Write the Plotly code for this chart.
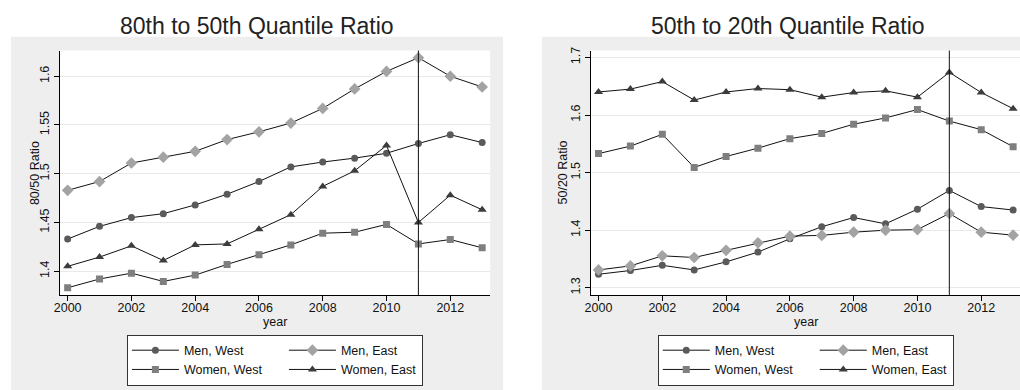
import plotly.graph_objects as go

W, H = 1020, 390
FONT = "Liberation Sans, Arial, Helvetica, sans-serif"

years = list(range(2000, 2014))
event_year = 2011

# 80th to 50th quantile ratio
r8050_men_west = [1.433, 1.446, 1.455, 1.459, 1.468, 1.479, 1.492, 1.507, 1.512, 1.516, 1.521, 1.531, 1.540, 1.532]
r8050_men_east = [1.483, 1.492, 1.511, 1.517, 1.523, 1.535, 1.543, 1.552, 1.567, 1.587, 1.605, 1.619, 1.600, 1.589]
r8050_women_west = [1.383, 1.392, 1.398, 1.3895, 1.396, 1.407, 1.417, 1.427, 1.439, 1.440, 1.448, 1.428, 1.4325, 1.424]
r8050_women_east = [1.405, 1.4145, 1.426, 1.411, 1.427, 1.428, 1.443, 1.458, 1.487, 1.503, 1.529, 1.450, 1.478, 1.463]

# 50th to 20th quantile ratio
r5020_men_west = [1.3235, 1.330, 1.339, 1.331, 1.345, 1.362, 1.385, 1.406, 1.422, 1.411, 1.4365, 1.469, 1.441, 1.435]
r5020_men_east = [1.331, 1.338, 1.3555, 1.3526, 1.365, 1.378, 1.3897, 1.391, 1.3966, 1.400, 1.401, 1.429, 1.3966, 1.3914]
r5020_women_west = [1.533, 1.546, 1.5665, 1.509, 1.528, 1.5425, 1.559, 1.568, 1.584, 1.595, 1.6095, 1.5895, 1.5746, 1.545]
r5020_women_east = [1.640, 1.645, 1.658, 1.626, 1.640, 1.646, 1.644, 1.631, 1.639, 1.642, 1.631, 1.674, 1.639, 1.611]

series_names = ["Men, West", "Men, East", "Women, West", "Women, East"]
series_symbols = ["circle", "diamond", "square", "triangle-up"]
series_sizes = [7, 9, 7, 8]
series_colors = ["#5a5a5a", "#a3a3a3", "#7f7f7f", "#3c3c3c"]
series_cols = ["c1", "c2", "c1", "c2"]

left_ticks = [1.4, 1.45, 1.5, 1.55, 1.6]
right_ticks = [1.3, 1.4, 1.5, 1.6, 1.7]
x_ticks = [2000, 2002, 2004, 2006, 2008, 2010, 2012]


def px(x):
    return x / W


def py(y):
    return 1 - y / H


fig = go.Figure()

panels = [
    ("x", "y", "legend", [r8050_men_west, r8050_men_east, r8050_women_west, r8050_women_east]),
    ("x2", "y2", "legend2", [r5020_men_west, r5020_men_east, r5020_women_west, r5020_women_east]),
]
for xa, ya, lg, data in panels:
    for name, sym, sz, col, grp, vals in zip(series_names, series_symbols, series_sizes,
                                             series_colors, series_cols, data):
        extra = dict(legendwidth=95) if grp == "c1" else {}
        fig.add_trace(go.Scatter(
            x=years, y=vals, name=name, mode="lines+markers",
            xaxis=xa, yaxis=ya, legend=lg, legendgroup=lg + grp,
            line=dict(color="#111111", width=1),
            marker=dict(symbol=sym, size=sz, color=col, line=dict(width=0)),
            showlegend=True, **extra,
        ))

axis_common = dict(
    showline=True, linecolor="#000000", linewidth=1,
    ticks="outside", ticklen=5, tickwidth=1, tickcolor="#000000",
    tickfont=dict(family=FONT, size=12.5, color="#111111"),
    zeroline=False,
)

legend_common = dict(
    orientation="h", traceorder="grouped", yanchor="top", y=py(334),
    xanchor="center", bgcolor="white", bordercolor="#333333", borderwidth=1,
    itemwidth=47, font=dict(family=FONT, size=12.5, color="#111111"),
    tracegroupgap=0,
)

fig.update_layout(
    width=W, height=H,
    margin=dict(l=0, r=0, t=0, b=0),
    paper_bgcolor="white", plot_bgcolor="white",
    font=dict(family=FONT, color="#111111"),
    xaxis=dict(domain=[px(54), px(487)], range=[1999.75, 2013.25], anchor="y",
               tickvals=x_ticks, showgrid=False, ticklabelstandoff=-4, **axis_common),
    yaxis=dict(domain=[py(294), py(47)], range=[1.3756, 1.6264], anchor="x",
               tickvals=left_ticks, ticktext=[f"{v:g}" for v in left_ticks],
               tickangle=-90, showgrid=True, gridcolor="#e9e9e9", gridwidth=1,
               **axis_common),
    xaxis2=dict(domain=[px(588), 1.0], range=[1999.75, 2013.216], anchor="y2",
                tickvals=x_ticks, showgrid=False, ticklabelstandoff=-4, **axis_common),
    yaxis2=dict(domain=[py(294), py(47)], range=[1.2875, 1.712], anchor="x2",
                tickvals=right_ticks, ticktext=[f"{v:g}" for v in right_ticks],
                tickangle=-90, showgrid=True, gridcolor="#e9e9e9", gridwidth=1,
                **axis_common),
    legend=dict(x=px(270.5), **legend_common),
    legend2=dict(x=px(804.5), **legend_common),
)

shapes = [
    dict(type="rect", xref="paper", yref="paper", x0=px(5), x1=px(500), y0=0, y1=py(33),
         fillcolor="#eeeeee", line=dict(width=0), layer="below"),
    dict(type="rect", xref="paper", yref="paper", x0=px(539), x1=1.0, y0=0, y1=py(33),
         fillcolor="#eeeeee", line=dict(width=0), layer="below"),
    dict(type="rect", xref="x domain", yref="y domain", x0=0, x1=1, y0=0, y1=1,
         fillcolor="white", line=dict(width=0), layer="below"),
    dict(type="rect", xref="x2 domain", yref="y2 domain", x0=0, x1=1, y0=0, y1=1,
         fillcolor="white", line=dict(width=0), layer="below"),
    dict(type="line", xref="x", yref="y domain", x0=event_year, x1=event_year, y0=0, y1=1,
         line=dict(color="#111111", width=1)),
    dict(type="line", xref="x2", yref="y2 domain", x0=event_year, x1=event_year, y0=0, y1=1,
         line=dict(color="#111111", width=1)),
]
fig.update_layout(shapes=shapes)

annotations = [
    dict(text="80th to 50th Quantile Ratio", x=px(252.5), y=py(22), xref="paper", yref="paper",
         xanchor="center", yanchor="middle", showarrow=False,
         font=dict(family=FONT, size=23, color="#222222")),
    dict(text="50th to 20th Quantile Ratio", x=px(786.5), y=py(22), xref="paper", yref="paper",
         xanchor="center", yanchor="middle", showarrow=False,
         font=dict(family=FONT, size=23, color="#222222")),
    dict(text="year", x=px(270.5), y=py(321), xref="paper", yref="paper",
         xanchor="center", yanchor="middle", showarrow=False,
         font=dict(family=FONT, size=12.5, color="#111111")),
    dict(text="year", x=px(804.5), y=py(321), xref="paper", yref="paper",
         xanchor="center", yanchor="middle", showarrow=False,
         font=dict(family=FONT, size=12.5, color="#111111")),
    dict(text="80/50 Ratio", x=px(28.5), y=py(170.5), xref="paper", yref="paper",
         xanchor="center", yanchor="middle", textangle=-90, showarrow=False,
         font=dict(family=FONT, size=12.5, color="#111111")),
    dict(text="50/20 Ratio", x=px(560), y=py(170.5), xref="paper", yref="paper",
         xanchor="center", yanchor="middle", textangle=-90, showarrow=False,
         font=dict(family=FONT, size=12.5, color="#111111")),
]
fig.update_layout(annotations=annotations)

fig.write_html("out.html", config={"displayModeBar": False},
               post_script="document.body.style.margin='0px';")
